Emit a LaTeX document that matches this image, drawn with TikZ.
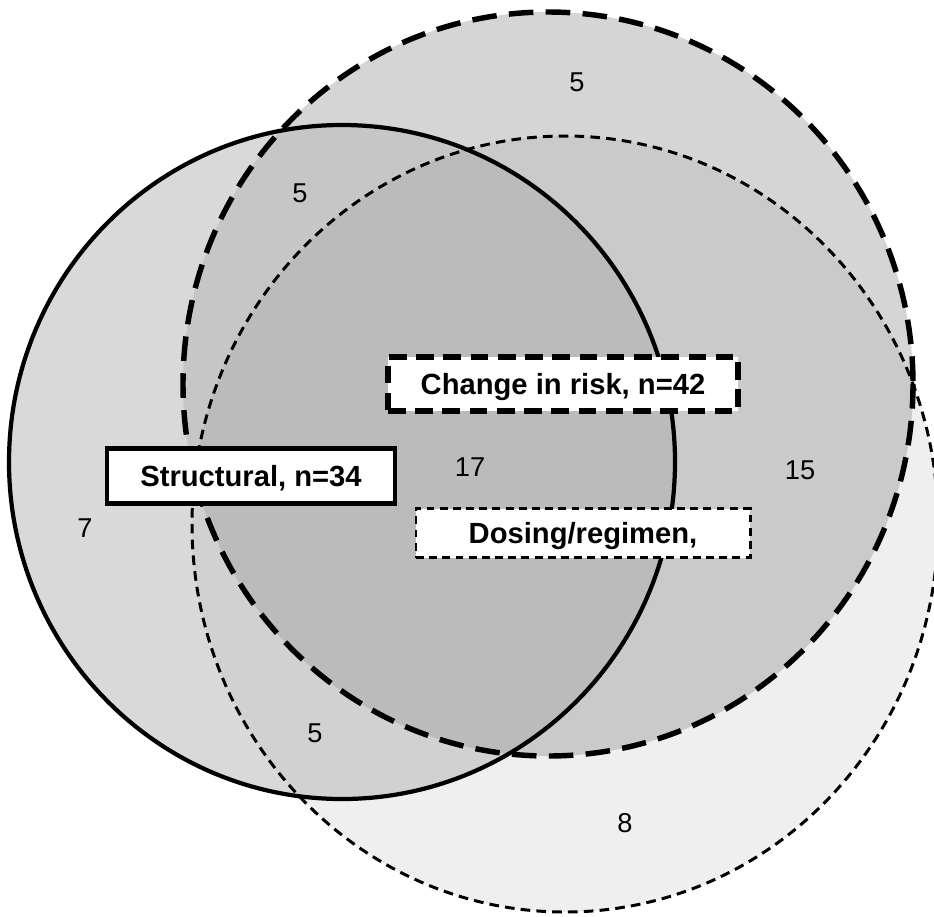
\documentclass[tikz,border=0pt]{standalone}
\usepackage{fontspec}
\setmainfont{Liberation Sans}
\usepackage{tikz}
\definecolor{sonly}{HTML}{D9D9D9}
\definecolor{ronly}{HTML}{D5D5D5}
\definecolor{donly}{HTML}{EFEFEF}
\definecolor{sr}{HTML}{C6C6C6}
\definecolor{sd}{HTML}{D1D1D1}
\definecolor{rd}{HTML}{CACACA}
\definecolor{srd}{HTML}{BBBBBB}
\tikzstyle{struct}=[line width=2.4pt,solid,black]
\tikzstyle{risk}=[line width=3.1pt,dash pattern=on 14pt off 7pt,black]
\tikzstyle{dose}=[line width=1.7pt,dash pattern=on 5.5pt off 3.5pt,black]
\tikzstyle{count}=[font=\fontsize{15.5}{17}\selectfont,black]
\tikzstyle{legend}=[fill=white,inner sep=0pt,text depth=0pt,font=\bfseries\fontsize{16.6}{19}\selectfont]
\tikzstyle{slegend}=[legend,line width=2.4pt,draw]
\tikzstyle{rlegend}=[legend,line width=3pt,draw,dash pattern=on 10pt off 5.5pt]
\tikzstyle{dlegend}=[legend,line width=1.7pt,draw,dash pattern=on 4.5pt off 3pt]

\begin{document}
\begin{tikzpicture}[x=0.2mm,y=-0.2mm]
	\useasboundingbox (0,0) rectangle (934,916);
	\coordinate (S) at (342,462);
	\coordinate (R) at (548,384);
	\coordinate (D) at (565,524);
	\def\spath{(S) ellipse [x radius=333, y radius=337]}
	\def\rpath{(R) ellipse [x radius=365, y radius=372]}
	\def\dpath{(D) ellipse [x radius=373, y radius=388]}

	% single regions
	\fill[donly] \dpath;
	\fill[ronly] \rpath;
	\fill[sonly] \spath;
	% overlaps
	\begin{scope}
		\clip \spath;
		\fill[sr] \rpath;
	\end{scope}
	\begin{scope}
		\clip \spath;
		\fill[sd] \dpath;
	\end{scope}
	\begin{scope}
		\clip \rpath;
		\fill[rd] \dpath;
	\end{scope}
	\begin{scope}
		\clip \spath;
		\clip \rpath;
		\fill[srd] \dpath;
	\end{scope}

	\draw[dose] \dpath;
	\draw[risk] \rpath;
	\draw[struct] \spath;

	\foreach \place/\name/\val in {{(577,82)/ronly/5}, {(300,193)/sr/5},
		{(470,467)/srd/17}, {(800,470)/rd/15}, {(85,528)/sonly/7},
		{(315,733)/sd/5}, {(625,823)/donly/8}}
		\node[count] (n\name) at \place {\val};

	\node[rlegend,minimum width=70mm,minimum height=10.8mm] (rlab) at (563,384) {Change in risk, n=42};
	\node[slegend,minimum width=57.6mm,minimum height=11mm] (slab) at (251,476) {Structural, n=34};
	\node[dlegend,minimum width=66.8mm,minimum height=9.8mm] (dlab) at (583,533) {Dosing/regimen,};
\end{tikzpicture}
\end{document}
